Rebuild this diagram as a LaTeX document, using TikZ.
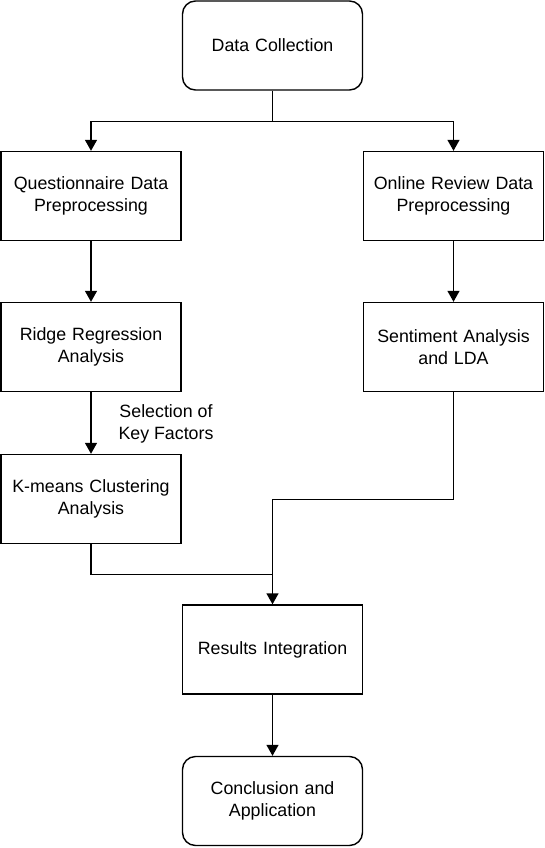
\documentclass[tikz,border=0pt]{standalone}
\usepackage{fontspec}
\setmainfont{Liberation Sans}
\usetikzlibrary{arrows.meta}
\begin{document}
\begin{tikzpicture}[x=1pt,y=1pt,
  font=\fontsize{17.8}{21.5}\selectfont,
  box/.style={draw, line width=1.4pt, minimum width=180pt, minimum height=89pt, inner sep=0pt, align=center, text width=176pt},
  rbox/.style={box, rounded corners=13pt},
  conn/.style={line width=1.4pt},
  arr/.style={conn, -{Triangle[width=12pt,length=11pt]}}]
\useasboundingbox (0,0) rectangle (545,-848);
\node[rbox] (dc) at (272.5,-45.5) {Data Collection};
\node[box] (q) at (91,-196) {Questionnaire Data\\Preprocessing};
\node[box] (o) at (453.5,-196) {Online Review Data\\Preprocessing};
\node[box] (r) at (91,-347) {Ridge Regression\\Analysis};
\node[box] (s) at (453.5,-347) {Sentiment Analysis\\and LDA};
\node[box] (k) at (91,-499) {K-means Clustering\\Analysis};
\node[box] (res) at (272.5,-649.5) {Results Integration};
\node[rbox] (con) at (272.5,-801) {Conclusion and\\Application};
\node[align=center, inner sep=0pt] (lab) at (166,-424) {Selection of\\Key Factors};
\draw[conn] (dc.south) -- ++(0,-31) coordinate (split);
\draw[arr] (split) -| (q.north);
\draw[arr] (split) -| (o.north);
\draw[arr] (q.south) -- (r.north);
\draw[arr] (o.south) -- (s.north);
\draw[arr] (r.south) -- (k.north);
\draw[conn] (k.south) -- ++(0,-30) coordinate (kj) -| (res.north);
\draw[arr] (s.south) -- ++(0,-107) coordinate (sj) -| (res.north);
\draw[arr] (res.south) -- (con.north);
\end{tikzpicture}
\end{document}
